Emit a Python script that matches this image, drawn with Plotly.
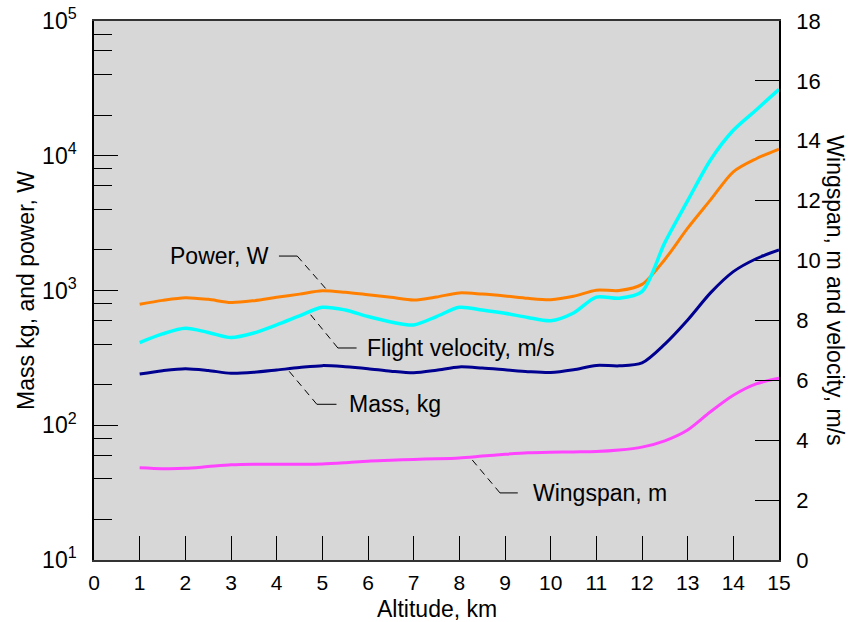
import plotly.graph_objects as go

# ---- data ----
altitude_km = [1, 1.5, 2, 2.5, 3, 3.5, 4, 4.5, 5, 5.5, 6, 6.5, 7, 7.5, 8, 8.5, 9, 9.5,
               10, 10.5, 11, 11.5, 12, 12.5, 13, 13.5, 14, 14.5, 15]
power_w = [790, 845, 885, 860, 815, 840, 890, 940, 995, 970, 930, 890, 850, 895, 960, 940,
           910, 875, 855, 905, 1005, 1000, 1110, 1700, 2900, 4700, 7600, 9500, 11200]
mass_kg = [240, 254, 263, 255, 243, 247, 257, 268, 277, 272, 263, 252, 245, 256, 271, 266,
           258, 250, 246, 258, 278, 276, 290, 400, 604, 960, 1380, 1720, 2000]
velocity_ms = [7.26, 7.55, 7.74, 7.6, 7.43, 7.58, 7.85, 8.15, 8.44, 8.35, 8.13, 7.95, 7.85,
               8.13, 8.44, 8.35, 8.24, 8.1, 7.99, 8.25, 8.78, 8.74, 8.96, 10.6, 12.0, 13.36,
               14.35, 15.03, 15.72]
wingspan_m = [3.08, 3.05, 3.06, 3.12, 3.18, 3.2, 3.2, 3.2, 3.21, 3.25, 3.3, 3.33, 3.36, 3.38,
              3.41, 3.47, 3.53, 3.58, 3.6, 3.61, 3.62, 3.67, 3.77, 3.98, 4.34, 4.95, 5.5,
              5.88, 6.07]

x_ticks = list(range(0, 16))
left_major = [10, 100, 1000, 10000, 100000]
left_major_text = ["10<sup>1</sup>", "10<sup>2</sup>", "10<sup>3</sup>", "10<sup>4</sup>", "10<sup>5</sup>"]
left_minor_even = [m * d for d in (10, 100, 1000, 10000) for m in (2, 4, 6, 8)]
left_minor_odd = [m * d for d in (10, 100, 1000, 10000) for m in (3, 5, 7, 9)]
right_ticks = list(range(0, 19, 2))

# leader labels (positions in x / right-axis units)
leader_text = ["Power, W", "Flight velocity, m/s", "Mass, kg", "Wingspan, m"]
leader_text_x = [3.87, 5.93, 5.53, 9.58]
leader_text_anchor = ["right", "left", "left", "left"]
leader_y = [10.15, 7.08, 5.2, 2.24]
leader_solid_x0 = [4.05, 5.75, 5.31, 9.28]
leader_elbow_x = [4.45, 5.34, 4.88, 8.89]
leader_end_x = [5.10, 4.69, 4.22, 8.25]
leader_end_y = [9.02, 8.29, 6.40, 3.40]

FONT = "Liberation Sans, Arial, sans-serif"
LABEL_SIZE = 23

fig = go.Figure()

fig.add_trace(go.Scatter(x=altitude_km, y=power_w, mode="lines", yaxis="y",
                         line=dict(color="#FF8000", width=3, shape="spline", smoothing=0.8)))
fig.add_trace(go.Scatter(x=altitude_km, y=mass_kg, mode="lines", yaxis="y",
                         line=dict(color="#000090", width=3, shape="spline", smoothing=0.8)))
fig.add_trace(go.Scatter(x=altitude_km, y=wingspan_m, mode="lines", yaxis="y2",
                         line=dict(color="#FF44FF", width=3, shape="spline", smoothing=0.8)))
fig.add_trace(go.Scatter(x=altitude_km, y=velocity_ms, mode="lines", yaxis="y2",
                         line=dict(color="#00FFFF", width=3.5, shape="spline", smoothing=0.8)))

annotations = []
for i, t in enumerate(leader_text):
    fig.add_trace(go.Scatter(x=[leader_solid_x0[i], leader_elbow_x[i]], y=[leader_y[i], leader_y[i]],
                             mode="lines", yaxis="y2", line=dict(color="black", width=1)))
    fig.add_trace(go.Scatter(x=[leader_elbow_x[i], leader_end_x[i]], y=[leader_y[i], leader_end_y[i]],
                             mode="lines", yaxis="y2", line=dict(color="black", width=1, dash="7px,5px")))
    annotations.append(dict(x=leader_text_x[i], y=leader_y[i], xref="x", yref="y2", text=t,
                            showarrow=False, xanchor=leader_text_anchor[i], yanchor="middle",
                            font=dict(size=LABEL_SIZE, color="black", family=FONT)))

annotations += [
    dict(x=0.5, y=-0.091, xref="paper", yref="paper", text="Altitude, km", showarrow=False,
         xanchor="center", yanchor="middle", font=dict(size=LABEL_SIZE, color="black", family=FONT)),
    dict(x=-0.1, y=0.5, xref="paper", yref="paper", text="Mass kg, and power, W", showarrow=False,
         textangle=-90, xanchor="center", yanchor="middle",
         font=dict(size=LABEL_SIZE, color="black", family=FONT)),
    dict(x=1.082, y=0.5, xref="paper", yref="paper", text="Wingspan, m and velocity, m/s", showarrow=False,
         textangle=90, xanchor="center", yanchor="middle",
         font=dict(size=LABEL_SIZE, color="black", family=FONT)),
]

fig.update_layout(
    width=851, height=622,
    margin=dict(l=94, r=72, t=21, b=62, autoexpand=False),
    paper_bgcolor="white",
    plot_bgcolor="#D7D7D7",
    showlegend=False,
    annotations=annotations,
    xaxis=dict(range=[0, 15], tickmode="array", tickvals=x_ticks, ticks="inside", ticklen=24,
               tickcolor="black", tickwidth=1, showline=True, linecolor="#333333", linewidth=1.5,
               mirror=True, showgrid=False, zeroline=False,
               tickfont=dict(size=21, color="black", family=FONT), ticklabelstandoff=3,
               automargin=False),
    yaxis=dict(type="log", range=[1, 5], tickmode="array", tickvals=left_major, ticktext=left_major_text,
               ticks="inside", ticklen=24, tickcolor="black", tickwidth=1, showline=True,
               linecolor="black", linewidth=1.5, showgrid=False, zeroline=False,
               tickfont=dict(size=23, color="black", family=FONT),
               ticklabelstandoff=11, automargin=False,
               minor=dict(tickmode="array", tickvals=left_minor_even, ticks="inside", ticklen=18,
                          tickcolor="black", tickwidth=1, showgrid=False)),
    yaxis3=dict(type="log", range=[1, 5], overlaying="y", side="left", tickmode="array",
                tickvals=left_minor_odd, ticks="inside", ticklen=12, tickcolor="black", tickwidth=1,
                showticklabels=False, showgrid=False, zeroline=False, showline=False, automargin=False),
    yaxis2=dict(range=[0, 18], overlaying="y", side="right", tickmode="array", tickvals=right_ticks,
                ticks="inside", ticklen=24, tickcolor="black", tickwidth=1, showline=True,
                linecolor="black", linewidth=1.5, showgrid=False, zeroline=False,
                tickfont=dict(size=22, color="black", family=FONT),
                ticklabelstandoff=11, automargin=False),
)

fig.write_html("out.html", config={"displayModeBar": False},
               post_script="document.body.style.margin='0';document.body.style.overflow='hidden';")
